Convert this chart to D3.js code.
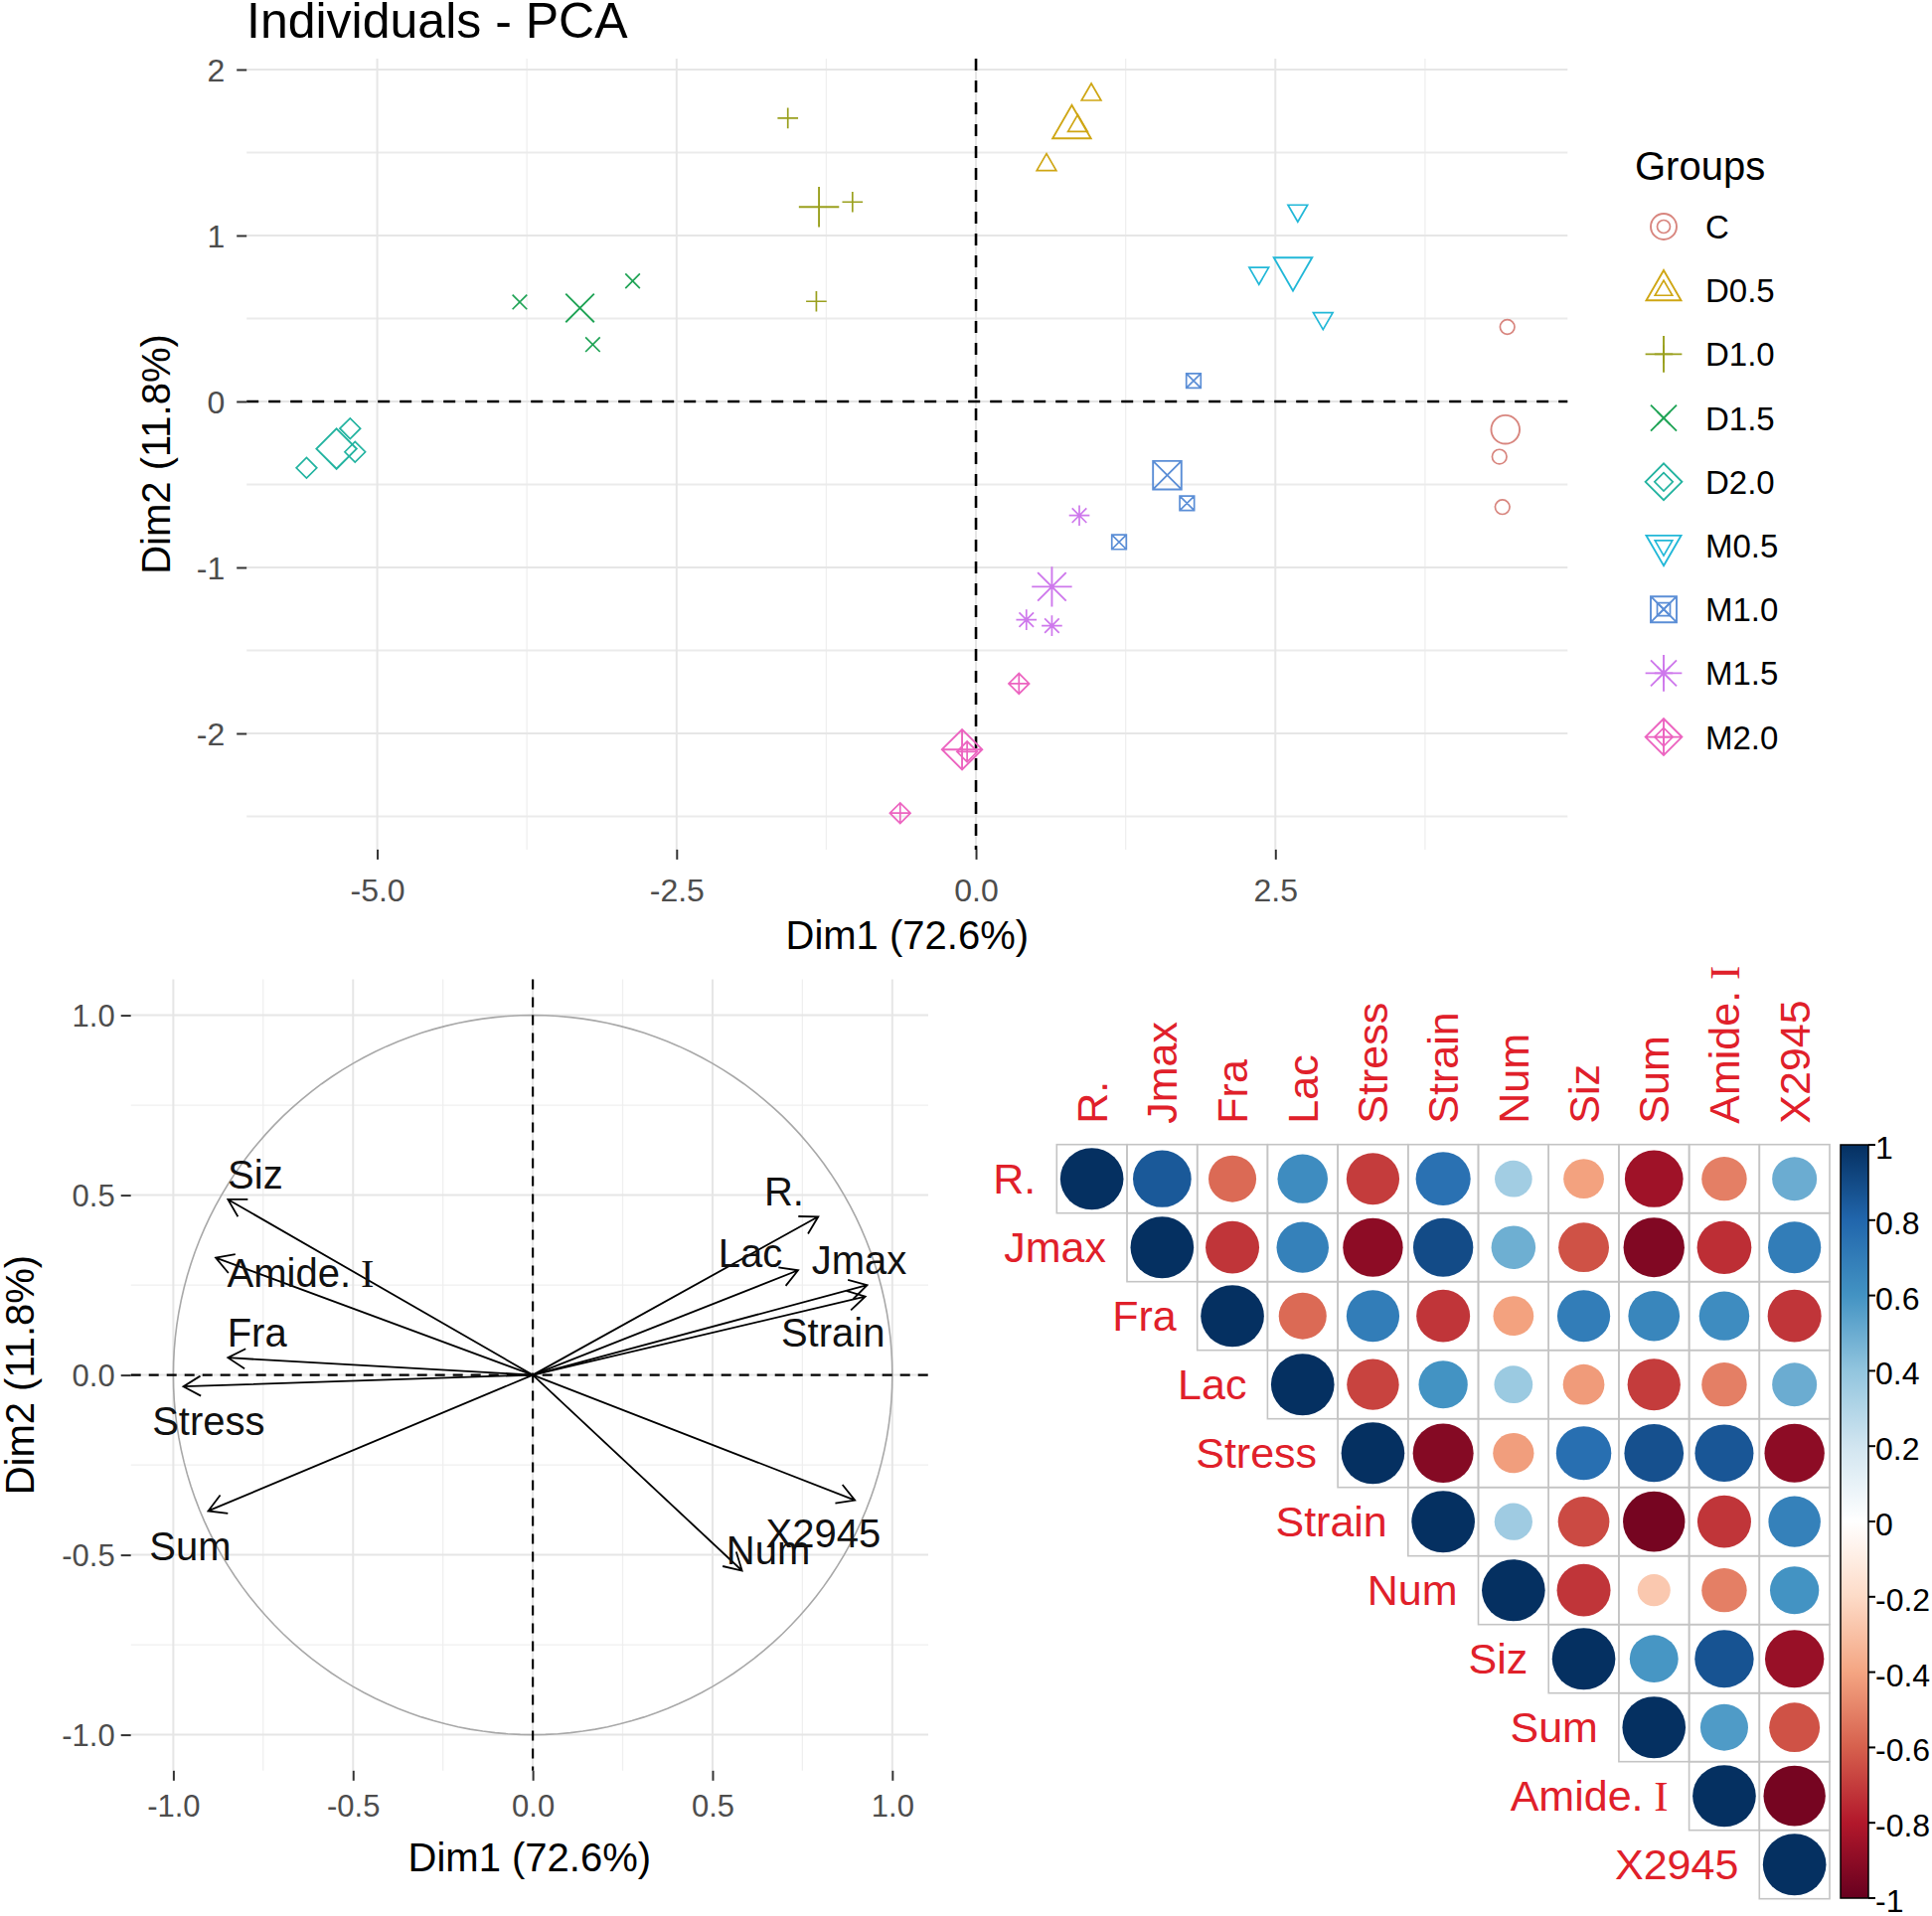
<!DOCTYPE html>
<html><head><meta charset="utf-8">
<script src="https://cdn.jsdelivr.net/npm/d3@7"></script>
<style>
body{margin:0;background:#fff}
svg text{font-family:"Liberation Sans",Arial,sans-serif}
</style>
</head><body>
<svg id="chart" width="1944" height="1928"></svg>
<script>
// ---------------- DATA ----------------
const groups = ["C","D0.5","D1.0","D1.5","D2.0","M0.5","M1.0","M1.5","M2.0"];
const groupColors = ["#D8857E","#CFA614","#9AA01E","#1FA355","#22B3A0","#22B8D8","#5B8ED6","#CE78EC","#EC64C0"];
const groupShapes = [1,2,3,4,5,6,7,8,9];   // R pch codes

const indGroup = ["C","C","C","D0.5","D0.5","D0.5","D1.0","D1.0","D1.0","D1.5","D1.5","D1.5",
                  "D2.0","D2.0","D2.0","M0.5","M0.5","M0.5","M1.0","M1.0","M1.0","M1.5","M1.5","M1.5",
                  "M2.0","M2.0","M2.0"];
const indDim1 = [4.437,4.371,4.396, 0.963,0.589,0.85, -1.571,-1.031,-1.333, -3.81,-2.867,-3.20,
                 -5.59,-5.226,-5.185, 2.687,2.363,2.898, 1.817,1.762,1.195, 0.863,0.421,0.634,
                 0.359,-0.633,-0.074];
const indDim2 = [0.449,-0.333,-0.636, 1.848,1.425,1.66, 1.707,1.202,0.603, 0.599,0.726,0.343,
                 -0.40,-0.163,-0.304, 1.150,0.773,0.501, 0.125,-0.613,-0.847, -0.687,-1.315,-1.351,
                 -1.70,-2.48,-2.11];
const meanDim1 = [4.421,0.80,-1.311,-3.307,-5.34,2.647,1.597,0.634,-0.116];
const meanDim2 = [-0.169,1.652,1.172,0.563,-0.285,0.80,-0.444,-1.116,-2.097];

const indXTicks = [-5,-2.5,0,2.5];
const indXMinor = [-3.75,-1.25,1.25,3.75];
const indYTicks = [-2,-1,0,1,2];
const indYMinor = [-2.5,-1.5,-0.5,0.5,1.5];

const varNames = ["R.","Jmax","Fra","Lac","Stress","Strain","Num","Siz","Sum","Amide.\u2160","X2945"];
const varDim1 = [0.794,0.930,-0.848,0.738,-0.972,0.925,0.582,-0.848,-0.903,-0.882,0.896];
const varDim2 = [0.440,0.250,0.048,0.291,-0.032,0.218,-0.544,0.488,-0.378,0.326,-0.348];
const varLabelDim1 = [0.699,0.908,-0.767,0.605,-0.902,0.835,0.655,-0.772,-0.953,-0.646,0.808];
const varLabelDim2 = [0.509,0.318,0.118,0.340,-0.128,0.118,-0.487,0.557,-0.475,0.283,-0.440];
const varTicks = [-1,-0.5,0,0.5,1];
const varMinor = [-0.75,-0.25,0.25,0.75];

// upper triangle of correlation matrix, row i starts at column i
const corrUpper = [
  [1, 0.85,-0.57, 0.63,-0.70, 0.75, 0.35,-0.41,-0.85,-0.51, 0.50],
  [1,-0.72, 0.68,-0.90, 0.90, 0.49,-0.64,-0.93,-0.74, 0.70],
  [1,-0.57, 0.70,-0.72,-0.41, 0.70, 0.66, 0.63,-0.72],
  [1,-0.68, 0.60, 0.37,-0.43,-0.70,-0.51, 0.50],
  [1,-0.92,-0.42, 0.76, 0.88, 0.86,-0.90],
  [1, 0.36,-0.66,-0.96,-0.72, 0.68],
  [1,-0.72,-0.27,-0.51, 0.60],
  [1, 0.59, 0.87,-0.87],
  [1, 0.57,-0.64],
  [1,-0.96],
  [1]
];
const colorbarTicks = [1,0.8,0.6,0.4,0.2,0,-0.2,-0.4,-0.6,-0.8,-1];
const rdbu = ["#67001F","#B2182B","#D6604D","#F4A582","#FDDBC7","#FFFFFF","#D1E5F0","#92C5DE","#4393C3","#2166AC","#053061"];

// ---------------- HELPERS ----------------
const svg = d3.select("#chart");
function shapePath(pch, x, y, r) {
  const s2 = Math.SQRT2 * r;
  switch (pch) {
    case 1: return `M${x-r},${y}A${r},${r} 0 1 0 ${x+r},${y}A${r},${r} 0 1 0 ${x-r},${y}Z`;
    case 2: { const rr=1.5551*r, xc=1.3468*r, yc=0.7776*r;
      return `M${x},${y-rr}L${x+xc},${y+yc}L${x-xc},${y+yc}Z`; }
    case 3: return `M${x-s2},${y}H${x+s2}M${x},${y-s2}V${y+s2}`;
    case 4: return `M${x-r},${y-r}L${x+r},${y+r}M${x-r},${y+r}L${x+r},${y-r}`;
    case 5: return `M${x-s2},${y}L${x},${y-s2}L${x+s2},${y}L${x},${y+s2}Z`;
    case 6: { const rr=1.5551*r, xc=1.3468*r, yc=0.7776*r;
      return `M${x},${y+rr}L${x+xc},${y-yc}L${x-xc},${y-yc}Z`; }
    case 7: return `M${x-r},${y-r}H${x+r}V${y+r}H${x-r}Z` + shapePath(4,x,y,r);
    case 8: return shapePath(4,x,y,r) + shapePath(3,x,y,r);
    case 9: return shapePath(3,x,y,r) + shapePath(5,x,y,r);
  }
}
function txt(g, x, y, s, o) {
  o = o || {};
  const t = g.append("text")
    .attr("transform", `translate(${x},${y})` + (o.rot ? ` rotate(${o.rot})` : ""))
    .attr("font-size", o.size || 40)
    .attr("fill", o.fill || "#000")
    .attr("text-anchor", o.anchor || "start");
  if (s.indexOf("\u2160") >= 0) {
    const parts = s.split("\u2160");
    t.append("tspan").text(parts[0]);
    t.append("tspan").attr("font-family", "Liberation Serif, serif").text(" I");
  } else t.text(s);
  return t;
}
function styleAxis(g, size) {
  g.select(".domain").remove();
  g.selectAll(".tick line").attr("stroke", "#333333").attr("stroke-width", 2);
  g.selectAll(".tick text").attr("font-size", size).attr("fill", "#4D4D4D")
    .attr("font-family", '"Liberation Sans",Arial,sans-serif');
}
const fmt1 = d => d.toFixed(1);
const fmt0 = d => String(d);

// ---------------- PANEL 1: Individuals ----------------
const P1 = {l:248.2, r:1577.3, t:59.1, b:854.9};
const x1 = d3.scaleLinear().domain([-6.09, 4.94]).range([P1.l, P1.r]);
const y1 = d3.scaleLinear().domain([-2.70, 2.065]).range([P1.b, P1.t]);
const g1 = svg.append("g");

g1.selectAll(".vmin").data(indXMinor).join("line")
  .attr("x1", d=>x1(d)).attr("x2", d=>x1(d)).attr("y1", P1.t).attr("y2", P1.b)
  .attr("stroke", "#EFEFEF").attr("stroke-width", 1.3);
g1.selectAll(".hmin").data(indYMinor).join("line")
  .attr("y1", d=>y1(d)).attr("y2", d=>y1(d)).attr("x1", P1.l).attr("x2", P1.r)
  .attr("stroke", "#EBEBEB").attr("stroke-width", 2);
g1.selectAll(".vmaj").data(indXTicks).join("line")
  .attr("x1", d=>x1(d)).attr("x2", d=>x1(d)).attr("y1", P1.t).attr("y2", P1.b)
  .attr("stroke", "#E6E6E6").attr("stroke-width", 2);
g1.selectAll(".hmaj").data(indYTicks).join("line")
  .attr("y1", d=>y1(d)).attr("y2", d=>y1(d)).attr("x1", P1.l).attr("x2", P1.r)
  .attr("stroke", "#E6E6E6").attr("stroke-width", 2);

g1.append("line").attr("x1", P1.l).attr("x2", P1.r).attr("y1", y1(0)).attr("y2", y1(0))
  .attr("stroke", "#000").attr("stroke-width", 2.6).attr("stroke-dasharray", "12,10");
g1.append("line").attr("x1", x1(0)).attr("x2", x1(0)).attr("y1", P1.t).attr("y2", P1.b)
  .attr("stroke", "#000").attr("stroke-width", 2.6).attr("stroke-dasharray", "12,10");

const gColor = d => groupColors[groups.indexOf(d)];
const gShape = d => groupShapes[groups.indexOf(d)];
g1.selectAll(".pt").data(indGroup.map((gname,i)=>({g:gname, x:indDim1[i], y:indDim2[i]}))).join("path")
  .attr("d", d => shapePath(gShape(d.g), x1(d.x), y1(d.y), 7.3))
  .attr("fill", "none").attr("stroke", d=>gColor(d.g)).attr("stroke-width", 1.7);
g1.selectAll(".mp").data(groups.map((gname,i)=>({g:gname, x:meanDim1[i], y:meanDim2[i]}))).join("path")
  .attr("d", d => shapePath(gShape(d.g), x1(d.x), y1(d.y), 14.3))
  .attr("fill", "none").attr("stroke", d=>gColor(d.g)).attr("stroke-width", 1.9);

const ax1 = g1.append("g").attr("transform", `translate(0,${P1.b})`)
  .call(d3.axisBottom(x1).tickValues(indXTicks).tickFormat(fmt1).tickSize(10).tickPadding(19));
styleAxis(ax1, 32);
const ay1 = g1.append("g").attr("transform", `translate(${P1.l},0)`)
  .call(d3.axisLeft(y1).tickValues(indYTicks).tickFormat(fmt0).tickSize(10).tickPadding(12));
styleAxis(ay1, 32);
ay1.selectAll(".tick text").attr("dy", "0.36em");

txt(g1, (P1.l+P1.r)/2, 955, "Dim1 (72.6%)", {size:40, anchor:"middle"});
txt(g1, 171, (P1.t+P1.b)/2, "Dim2 (11.8%)", {size:40, anchor:"middle", rot:-90});
txt(g1, 248, 38, "Individuals - PCA", {size:50});

// legend
const legY = d3.scalePoint().domain(groups).range([228, 741.6]);
txt(g1, 1645, 181, "Groups", {size:40});
const leg = g1.selectAll(".leg").data(groups).join("g");
leg.append("path").attr("d", d => shapePath(gShape(d), 1674, legY(d), 13))
  .attr("fill","none").attr("stroke", d=>gColor(d)).attr("stroke-width", 1.9);
leg.append("path").attr("d", d => shapePath(gShape(d), 1674, legY(d), 6.5))
  .attr("fill","none").attr("stroke", d=>gColor(d)).attr("stroke-width", 1.7);
leg.each(function(d){ txt(d3.select(this), 1716, legY(d)+12, d, {size:33}); });

// ---------------- PANEL 2: Variables ----------------
const P2 = {l:131.7, r:934, t:985.4, b:1781.8};
const x2 = d3.scaleLinear().domain([-1.118, 1.10]).range([P2.l, P2.r]);
const y2 = d3.scaleLinear().domain([-1.10, 1.10]).range([P2.b, P2.t]);
const g2 = svg.append("g");
g2.selectAll(".vmin").data(varMinor).join("line")
  .attr("x1", d=>x2(d)).attr("x2", d=>x2(d)).attr("y1", P2.t).attr("y2", P2.b)
  .attr("stroke", "#EFEFEF").attr("stroke-width", 1.3);
g2.selectAll(".hmin").data(varMinor).join("line")
  .attr("y1", d=>y2(d)).attr("y2", d=>y2(d)).attr("x1", P2.l).attr("x2", P2.r)
  .attr("stroke", "#EFEFEF").attr("stroke-width", 1.3);
g2.selectAll(".vmaj").data(varTicks).join("line")
  .attr("x1", d=>x2(d)).attr("x2", d=>x2(d)).attr("y1", P2.t).attr("y2", P2.b)
  .attr("stroke", "#E6E6E6").attr("stroke-width", 2);
g2.selectAll(".hmaj").data(varTicks).join("line")
  .attr("y1", d=>y2(d)).attr("y2", d=>y2(d)).attr("x1", P2.l).attr("x2", P2.r)
  .attr("stroke", "#E6E6E6").attr("stroke-width", 2);

const circ = d3.range(0, 361, 2).map(a => [Math.cos(a*Math.PI/180), Math.sin(a*Math.PI/180)]);
g2.append("path").attr("d", d3.line().x(d=>x2(d[0])).y(d=>y2(d[1]))(circ))
  .attr("fill","none").attr("stroke","#A8A8A8").attr("stroke-width",1.6);

g2.append("line").attr("x1", P2.l).attr("x2", P2.r).attr("y1", y2(0)).attr("y2", y2(0))
  .attr("stroke", "#000").attr("stroke-width", 2.2).attr("stroke-dasharray", "10,8");
g2.append("line").attr("x1", x2(0)).attr("x2", x2(0)).attr("y1", P2.t).attr("y2", P2.b)
  .attr("stroke", "#000").attr("stroke-width", 2.2).attr("stroke-dasharray", "10,8");

const arrows = varNames.map((n,i)=>({n, x:varDim1[i], y:varDim2[i], lx:varLabelDim1[i], ly:varLabelDim2[i]}));
g2.selectAll(".arr").data(arrows).join("path")
  .attr("d", d => {
    const x0 = x2(0), y0 = y2(0), xe = x2(d.x), ye = y2(d.y);
    const ang = Math.atan2(ye-y0, xe-x0), L = 20, A = Math.PI/6;
    const h1x = xe - L*Math.cos(ang-A), h1y = ye - L*Math.sin(ang-A);
    const h2x = xe - L*Math.cos(ang+A), h2y = ye - L*Math.sin(ang+A);
    return `M${x0},${y0}L${xe},${ye}M${h1x},${h1y}L${xe},${ye}L${h2x},${h2y}`;
  })
  .attr("fill","none").attr("stroke","#000").attr("stroke-width",1.8);
arrows.forEach(d => txt(g2, x2(d.lx), y2(d.ly)+14, d.n, {size:40, anchor:"middle", fill:"#111"}));

const ax2 = g2.append("g").attr("transform", `translate(0,${P2.b})`)
  .call(d3.axisBottom(x2).tickValues(varTicks).tickFormat(fmt1).tickSize(10).tickPadding(14));
styleAxis(ax2, 31);
const ay2 = g2.append("g").attr("transform", `translate(${P2.l},0)`)
  .call(d3.axisLeft(y2).tickValues(varTicks).tickFormat(fmt1).tickSize(10).tickPadding(6));
styleAxis(ay2, 31);
ay2.selectAll(".tick text").attr("dy", "0.36em");
txt(g2, (P2.l+P2.r)/2, 1883, "Dim1 (72.6%)", {size:40, anchor:"middle"});
txt(g2, 34, (P2.t+P2.b)/2, "Dim2 (11.8%)", {size:40, anchor:"middle", rot:-90});

// ---------------- PANEL 3: Correlation plot ----------------
const g3 = svg.append("g");
const CW = 70.7, CH = 69.0, CL = 1063.3, CT = 1151.7;
const xb = d3.scaleBand().domain(varNames).range([CL, CL + CW*varNames.length]);
const yb = d3.scaleBand().domain(varNames).range([CT, CT + CH*varNames.length]);
const corrColor = d3.scaleLinear().domain(d3.range(11).map(i => -1 + i*0.2)).range(rdbu);
const cells = [];
corrUpper.forEach((row, i) => row.forEach((v, k) => cells.push({r:varNames[i], c:varNames[i+k], v})));
g3.selectAll(".cell").data(cells).join("rect")
  .attr("x", d=>xb(d.c)).attr("y", d=>yb(d.r)).attr("width", xb.bandwidth()).attr("height", yb.bandwidth())
  .attr("fill","none").attr("stroke","#C4C4C4").attr("stroke-width",1.6);
g3.selectAll(".dot").data(cells).join("ellipse")
  .attr("cx", d=>xb(d.c)+xb.bandwidth()/2).attr("cy", d=>yb(d.r)+yb.bandwidth()/2)
  .attr("rx", d=>0.45*Math.sqrt(Math.abs(d.v))*xb.bandwidth())
  .attr("ry", d=>0.45*Math.sqrt(Math.abs(d.v))*yb.bandwidth())
  .attr("fill", d=>corrColor(d.v));
// labels
varNames.forEach(n => {
  txt(g3, xb(n) - 21, yb(n) + yb.bandwidth()/2 + 15, n, {size:43, anchor:"end", fill:"#E0202A"});
  txt(g3, xb(n) + xb.bandwidth()/2 + 15, CT - 21, n, {size:43, anchor:"start", fill:"#E0202A", rot:-90});
});
// colour bar
const cb = d3.scaleLinear().domain([-1,1]).range([1910, 1152]);
const defs = svg.append("defs");
const grad = defs.append("linearGradient").attr("id","cbgrad").attr("x1",0).attr("x2",0).attr("y1",1).attr("y2",0);
rdbu.forEach((c,i) => grad.append("stop").attr("offset", i/(rdbu.length-1)).attr("stop-color", c));
g3.append("rect").attr("x",1852).attr("y",cb(1)).attr("width",28).attr("height",cb(-1)-cb(1))
  .attr("fill","url(#cbgrad)").attr("stroke","#000").attr("stroke-width",1.5);
g3.selectAll(".cbt").data(colorbarTicks).join("line")
  .attr("x1",1880).attr("x2",1887).attr("y1",d=>cb(d)).attr("y2",d=>cb(d))
  .attr("stroke","#000").attr("stroke-width",2);
colorbarTicks.forEach(v => txt(g3, 1887, cb(v) + 14, String(v), {size:32}));
</script>
</body></html>
